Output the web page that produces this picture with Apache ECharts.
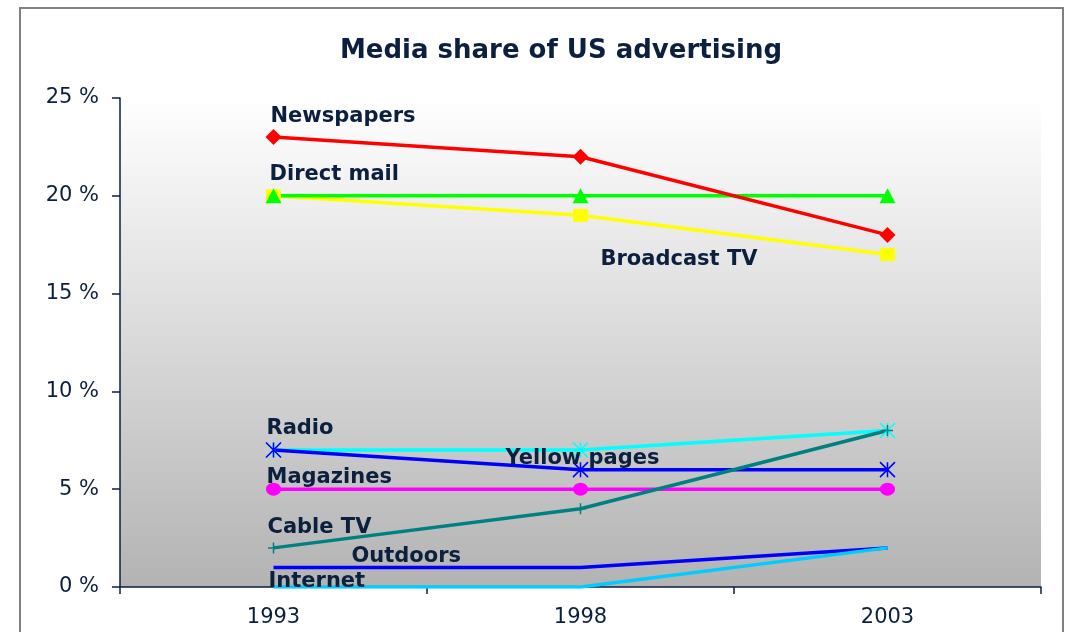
<!DOCTYPE html>
<html>
<head>
<meta charset="utf-8">
<title>Media share of US advertising</title>
<script src="https://cdn.jsdelivr.net/npm/echarts@6/dist/echarts.min.js"></script>
<style>
  html, body { margin: 0; padding: 0; background: #ffffff; }
  #chart { width: 1068px; height: 632px; }
</style>
</head>
<body>
<div id="chart"></div>
<script>
// Share of US advertising spend by medium, in percent
const years = ['1993', '1998', '2003'];
const newspapers = [23, 22, 18];
const directMail = [20, 20, 20];
const broadcastTV = [20, 19, 17];
const radio = [7, 6, 6];
const yellowPages = [7, 7, 8];
const magazines = [5, 5, 5];
const cableTV = [2, 4, 8];
const outdoors = [1, 1, 2];
const internet = [0, 0, 2];

const TEXT = '#0b1f3f';
const FONT = 'DejaVu Sans, Verdana, sans-serif';

// Stroked marker shapes (star = X with a vertical bar, plus = cross)
const STAR = 'path://M0,0L10,10M10,0L0,10M5,0L5,10';
const PLUS = 'path://M5,0L5,10M0,5L10,5';

// A name tag pinned to one data point of a series, shifted by (dx, dy) pixels
function nameTag(name, yearIdx, values, dx, dy, align) {
  return {
    symbol: 'circle',
    symbolSize: 0,
    silent: true,
    animation: false,
    data: [{ coord: [years[yearIdx], values[yearIdx]] }],
    label: {
      show: true,
      formatter: name,
      position: [dx, dy],
      align: align || 'left',
      verticalAlign: 'middle',
      color: TEXT,
      fontFamily: FONT,
      fontWeight: 'bold',
      fontSize: 21
    }
  };
}

function lineSeries(name, values, color, symbol, symbolSize, stroked, tag) {
  return {
    name: name,
    type: 'line',
    data: values,
    symbol: symbol,
    symbolSize: symbolSize,
    showSymbol: symbol !== 'none',
    lineStyle: { color: color, width: 3.5 },
    itemStyle: stroked
      ? { color: 'rgba(0,0,0,0)', borderColor: color, borderWidth: 1.5 }
      : { color: color, borderWidth: 0 },
    emphasis: { disabled: true },
    animation: false,
    markPoint: tag
  };
}

const chart = echarts.init(document.getElementById('chart'), null, { renderer: 'canvas' });

chart.setOption({
  backgroundColor: '#ffffff',
  title: {
    text: 'Media share of US advertising',
    left: 556,
    top: 33,
    textAlign: 'center',
    textStyle: { color: TEXT, fontFamily: FONT, fontWeight: 'bold', fontSize: 26 }
  },
  graphic: [{
    type: 'rect',
    shape: { x: 20, y: 8, width: 1043, height: 640 },
    style: { fill: 'none', stroke: '#7f7f88', lineWidth: 2 },
    silent: true,
    z: 100
  }],
  grid: {
    left: 120, right: 27, top: 98, bottom: 45,
    show: true,
    borderWidth: 0,
    backgroundColor: new echarts.graphic.LinearGradient(0, 0, 0, 1, [
      { offset: 0, color: '#ffffff' },
      { offset: 1, color: '#b3b3b3' }
    ])
  },
  xAxis: {
    type: 'category',
    data: years,
    boundaryGap: true,
    axisLine: { lineStyle: { color: TEXT, width: 1.5 } },
    axisTick: { show: true, length: 7, lineStyle: { color: TEXT, width: 1.5 } },
    axisLabel: { color: TEXT, fontFamily: FONT, fontSize: 21, margin: 20 },
    splitLine: { show: false }
  },
  yAxis: {
    type: 'value',
    min: 0,
    max: 25,
    interval: 5,
    axisLine: { show: true, lineStyle: { color: TEXT, width: 1.5 } },
    axisTick: { show: true, length: 8, lineStyle: { color: TEXT, width: 1.5 } },
    axisLabel: { color: TEXT, fontFamily: FONT, fontSize: 21, margin: 21, formatter: '{value} %' },
    splitLine: { show: false }
  },
  series: [
    lineSeries('Broadcast TV', broadcastTV, '#ffff00', 'rect', [15, 13], false,
      nameTag('Broadcast TV', 2, broadcastTV, -130, 5, 'right')),
    lineSeries('Direct mail', directMail, '#00ff00', 'triangle', [16, 15], false,
      nameTag('Direct mail', 0, directMail, -4, -21)),
    lineSeries('Newspapers', newspapers, '#ff0000', 'diamond', [16, 16], false,
      nameTag('Newspapers', 0, newspapers, -3, -21)),
    lineSeries('Yellow pages', yellowPages, '#00ffff', STAR, [15, 15], true,
      nameTag('Yellow pages', 1, yellowPages, 2, 8, 'center')),
    lineSeries('Radio', radio, '#0000ff', STAR, [15, 15], true,
      nameTag('Radio', 0, radio, -7, -22)),
    lineSeries('Magazines', magazines, '#ff00ff', 'circle', [15, 13], false,
      nameTag('Magazines', 0, magazines, -7, -12)),
    lineSeries('Cable TV', cableTV, '#008080', PLUS, [11, 11], true,
      nameTag('Cable TV', 0, cableTV, -6, -20)),
    lineSeries('Outdoors', outdoors, '#0000ff', 'none', 0, false,
      nameTag('Outdoors', 0, outdoors, 78, -11)),
    lineSeries('Internet', internet, '#00ccff', 'none', 0, false,
      nameTag('Internet', 0, internet, -5, -5))
  ]
});
</script>
</body>
</html>
